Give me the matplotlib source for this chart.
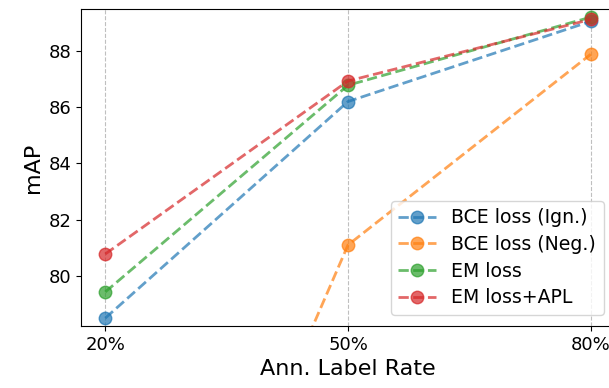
import numpy as np
import matplotlib
matplotlib.use("Agg")
import matplotlib.pyplot as plt

rates = [20, 50, 80]
rate_labels = ["20%", "50%", "80%"]

bce_ign = [78.5, 86.2, 89.05]
bce_neg = [61.2, 81.1, 87.88]
em_loss = [79.43, 86.78, 89.2]
em_apl = [80.78, 86.93, 89.12]

names = ["BCE loss (Ign.)", "BCE loss (Neg.)", "EM loss", "EM loss+APL"]

fig = plt.figure(figsize=(6.09, 3.88), dpi=100)
ax = fig.add_axes([81 / 609, 62 / 388, 534 / 609, 317 / 388])

for vals, name in zip([bce_ign, bce_neg, em_loss, em_apl], names):
    ax.plot(rates, vals, "--o", lw=2, ms=9, alpha=0.7, label=name)

ax.set_xticks(rates)
ax.set_xticklabels(rate_labels)
ax.set_xlim(17, 83)
ax.set_ylim(78.22, 89.49)
ax.set_yticks([80, 82, 84, 86, 88])
ax.grid(axis="x", linestyle="--", color="gray", alpha=0.5)
ax.tick_params(labelsize=13)
ax.set_xlabel("Ann. Label Rate", fontsize=16)
ax.set_ylabel("mAP", fontsize=16)
ax.legend(loc="lower right", fontsize=13.6, borderaxespad=0.6, labelspacing=0.4)

fig.savefig("out.png", dpi=100)
